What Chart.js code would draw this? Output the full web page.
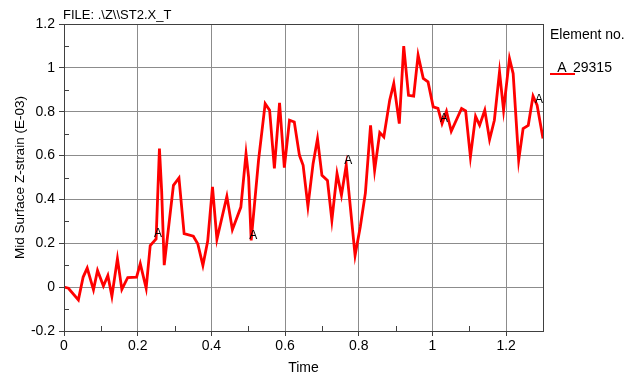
<!DOCTYPE html>
<html>
<head>
<meta charset="utf-8">
<script src="https://cdn.jsdelivr.net/npm/chart.js@4/dist/chart.umd.min.js"></script>
<style>
  body { margin: 0; background: #fff; }
  #wrap { width: 637px; height: 382px; }
</style>
</head>
<body>
<div id="wrap"><canvas id="strainChart"></canvas></div>
<script>
// values (time, mid surface z-strain E-03)
const timeVals = [
    0, 0.012, 0.039, 0.052, 0.063, 0.08, 0.091, 0.107, 0.119, 0.13,
    0.145, 0.157, 0.173, 0.197, 0.207, 0.223, 0.234, 0.25, 0.259, 0.265,
    0.272, 0.297, 0.312, 0.326, 0.351, 0.363, 0.377, 0.39, 0.403, 0.415,
    0.442, 0.457, 0.48, 0.494, 0.501, 0.508, 0.528, 0.546, 0.558, 0.571,
    0.585, 0.598, 0.612, 0.625, 0.639, 0.649, 0.662, 0.676, 0.688, 0.7,
    0.715, 0.727, 0.741, 0.753, 0.766, 0.79, 0.804, 0.818, 0.832, 0.843,
    0.857, 0.868, 0.884, 0.895, 0.91, 0.922, 0.935, 0.949, 0.961, 0.975,
    0.988, 1.002, 1.015, 1.026, 1.038, 1.051, 1.079, 1.09, 1.103, 1.117,
    1.128, 1.142, 1.155, 1.168, 1.182, 1.193, 1.209, 1.219, 1.234, 1.246,
    1.26, 1.273, 1.284, 1.3
];
const strainVals = [
    0, -0.005, -0.058, 0.046, 0.087, -0.012, 0.076, 0.005, 0.053, -0.041,
    0.13, -0.01, 0.044, 0.046, 0.107, -0.005, 0.19, 0.22, 0.632, 0.44,
    0.1, 0.464, 0.498, 0.244, 0.232, 0.198, 0.099, 0.21, 0.457, 0.218,
    0.414, 0.262, 0.365, 0.609, 0.502, 0.213, 0.579, 0.837, 0.807, 0.541,
    0.84, 0.545, 0.761, 0.753, 0.601, 0.556, 0.368, 0.563, 0.677, 0.51,
    0.487, 0.305, 0.518, 0.419, 0.556, 0.145, 0.274, 0.43, 0.738, 0.533,
    0.705, 0.685, 0.853, 0.929, 0.746, 1.099, 0.875, 0.871, 1.058, 0.952,
    0.936, 0.822, 0.815, 0.746, 0.802, 0.711, 0.815, 0.804, 0.594, 0.779,
    0.738, 0.807, 0.673, 0.761, 0.982, 0.807, 1.043, 0.974, 0.579, 0.723,
    0.738, 0.871, 0.83, 0.678
];
// times where the "A" symbol sits on the curve
const markerTimes = [0.25, 0.508, 0.766, 1.026, 1.284];
const xMinorTicks = [0.1, 0.3, 0.5, 0.7, 0.9, 1.1];
const yMinorTicks = [-0.1, 0.1, 0.3, 0.5, 0.7, 0.9, 1.1];

const fileTitle = 'FILE: .\\Z\\\\ST2.X_T';
const legendHead = 'Element no.';
const seriesName = '29315';
const seriesSymbol = 'A';

const FONT = '"Liberation Sans", Arial, sans-serif';
const axisColor = '#404040';
const gridColor = '#8c8c8c';
const lineColor = '#ff0000';

const points = timeVals.map((t, i) => ({ x: t, y: strainVals[i] }));

const fmt = v => {
    const r = Math.round(v * 10) / 10;
    return r === 0 ? '0' : String(r);
};

const decorPlugin = {
    id: 'decor',
    afterDraw(chart) {
        const ctx = chart.ctx;
        const a = chart.chartArea;
        const xs = chart.scales.x, ys = chart.scales.y;
        ctx.save();

        // box round the plot
        ctx.strokeStyle = axisColor;
        ctx.lineWidth = 1;
        ctx.strokeRect(Math.round(a.left) + 0.5, Math.round(a.top) + 0.5,
                       Math.round(a.right - a.left), Math.round(a.bottom - a.top));

        // minor ticks, pointing inward
        ctx.beginPath();
        xMinorTicks.forEach(v => {
            const px = Math.round(xs.getPixelForValue(v)) + 0.5;
            ctx.moveTo(px, a.bottom);
            ctx.lineTo(px, a.bottom - 5);
        });
        yMinorTicks.forEach(v => {
            const py = Math.round(ys.getPixelForValue(v)) + 0.5;
            ctx.moveTo(a.left, py);
            ctx.lineTo(a.left + 5, py);
        });
        ctx.stroke();

        // symbols along the curve
        ctx.fillStyle = '#000';
        ctx.font = '12px ' + FONT;
        ctx.textAlign = 'center';
        ctx.textBaseline = 'middle';
        markerTimes.forEach(t => {
            const i = timeVals.indexOf(t);
            if (i < 0) return;
            const px = xs.getPixelForValue(timeVals[i]);
            const py = ys.getPixelForValue(strainVals[i]);
            ctx.fillText(seriesSymbol, px + 2, py - 5);
        });

        // file title
        ctx.font = '13px ' + FONT;
        ctx.textAlign = 'left';
        ctx.fillText(fileTitle, a.left - 1, 15);

        // legend
        const lx = a.right + 7;
        ctx.font = '14px ' + FONT;
        ctx.fillText(legendHead, lx, 35);
        ctx.strokeStyle = lineColor;
        ctx.lineWidth = 2;
        ctx.beginPath();
        ctx.moveTo(lx, 74);
        ctx.lineTo(lx + 25, 74);
        ctx.stroke();
        ctx.textAlign = 'center';
        ctx.fillText(seriesSymbol, lx + 12, 68);
        ctx.textAlign = 'left';
        ctx.fillText(seriesName, lx + 23, 68);

        ctx.restore();
    }
};

new Chart(document.getElementById('strainChart'), {
    type: 'line',
    data: {
        datasets: [{
            label: seriesName,
            data: points,
            borderColor: lineColor,
            borderWidth: 2.8,
            pointRadius: 0,
            tension: 0,
            fill: false
        }]
    },
    options: {
        responsive: true,
        maintainAspectRatio: false,
        animation: false,
        layout: { padding: { left: 0, top: 24, right: 94, bottom: 0 } },
        plugins: {
            legend: { display: false },
            tooltip: { enabled: false }
        },
        scales: {
            x: {
                type: 'linear',
                min: 0,
                max: 1.3,
                afterFit: s => { s.height = 51; },
                ticks: {
                    stepSize: 0.2,
                    includeBounds: false,
                    maxRotation: 0,
                    autoSkip: false,
                    padding: 2,
                    color: '#000',
                    font: { family: FONT, size: 14 },
                    callback: fmt
                },
                grid: { color: gridColor, tickColor: axisColor, tickLength: 5 },
                border: { color: axisColor },
                title: {
                    display: true,
                    text: 'Time',
                    color: '#000',
                    font: { family: FONT, size: 14 },
                    padding: { top: 0, bottom: 5 }
                }
            },
            y: {
                min: -0.2,
                max: 1.2,
                afterFit: s => { s.width = 64; },
                ticks: {
                    stepSize: 0.2,
                    autoSkip: false,
                    padding: 4,
                    color: '#000',
                    font: { family: FONT, size: 14 },
                    callback: fmt
                },
                grid: { color: gridColor, tickColor: axisColor, tickLength: 5 },
                border: { color: axisColor },
                title: {
                    display: true,
                    text: 'Mid Surface Z-strain (E-03)',
                    color: '#000',
                    font: { family: FONT, size: 13.5 },
                    padding: { top: 12, bottom: 0 }
                }
            }
        }
    },
    plugins: [decorPlugin]
});
</script>
</body>
</html>
